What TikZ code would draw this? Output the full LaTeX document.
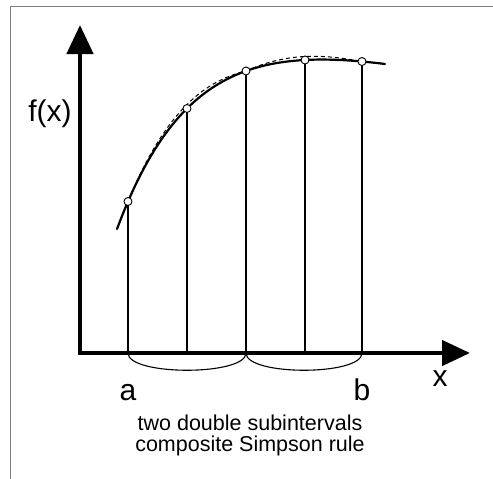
\documentclass[tikz,border=0pt]{standalone}
\usepackage{fontspec}
\setmainfont{Liberation Sans}
\usetikzlibrary{arrows.meta}

\begin{document}
\begin{tikzpicture}[x=1pt, y=-1pt,
    declare function={fcurve(\t)=-4.83+233.83*exp(-(\t-117)/80)+0.2262*(\t-117);},
    axis/.style={line width=4.5pt, line join=miter},
    ordinate/.style={line width=1.1pt},
    knot/.style={circle, draw, fill=white, line width=0.9pt, inner sep=0pt, minimum size=8pt},
    lbl/.style={font=\fontsize{30}{31}\selectfont, anchor=base, inner sep=0pt},
    caption/.style={font=\fontsize{21.5}{21}\selectfont, anchor=base, inner sep=0pt}]

    \useasboundingbox (0,0) rectangle (493,479);

    % Frame
    \draw[black!50, line width=1pt] (10.5,479) -- (10.5,6.5) -- (493,6.5);

    % Axes
    \coordinate (origin) at (80,353);
    \coordinate (ytip) at (80,25);
    \coordinate (xtip) at (470,353);
    \draw[axis, {Triangle[width=26pt,length=29pt]}-{Triangle[width=25pt,length=28pt]}] (ytip) -- (origin) -- (xtip);

    % Nodes on the curve and their feet on the x axis
    \foreach \i/\xx in {0/128,1/187,2/246,3/305,4/362} {
      \coordinate (p\i) at (\xx,{fcurve(\xx)});
      \coordinate (q\i) at (\xx,353);
    }

    % Ordinates
    \foreach \i in {0,...,4}
      \draw[ordinate] (q\i) -- (p\i);

    % The function
    \draw[line width=2.2pt, line cap=round] plot[domain=117:385, samples=80] (\x,{fcurve(\x)});

    % Simpson parabolas
    \draw[line width=1pt, dash pattern=on 4pt off 3pt] plot[domain=128:246, samples=40] (\x,{fcurve(\x)-4*sin(1.5254*(\x-128))});
    \draw[line width=1pt, dash pattern=on 4pt off 3pt] plot[domain=246:362, samples=40] (\x,{fcurve(\x)-3.5*sin(1.5517*(\x-246))});

    % Points
    \foreach \i in {0,...,4}
      \node[knot] (k\i) at (p\i) {};

    % Double subintervals
    \draw[ordinate] (q0) .. controls +(0,23) and +(0,23) .. (q2);
    \draw[ordinate] (q2) .. controls +(0,23) and +(0,23) .. (q4);

    % Labels
    \node[lbl] (fx) at (50,121) {f(x)};
    \node[lbl] (xlbl) at (440,386) {x};
    \node[lbl] (alabel) at (128,400) {a};
    \node[lbl] (blabel) at (362,400) {b};

    % Caption
    \node[caption] (cap1) at (250,430) {two double subintervals};
    \node[caption] (cap2) at (250,451) {composite Simpson rule};

\end{tikzpicture}
\end{document}
